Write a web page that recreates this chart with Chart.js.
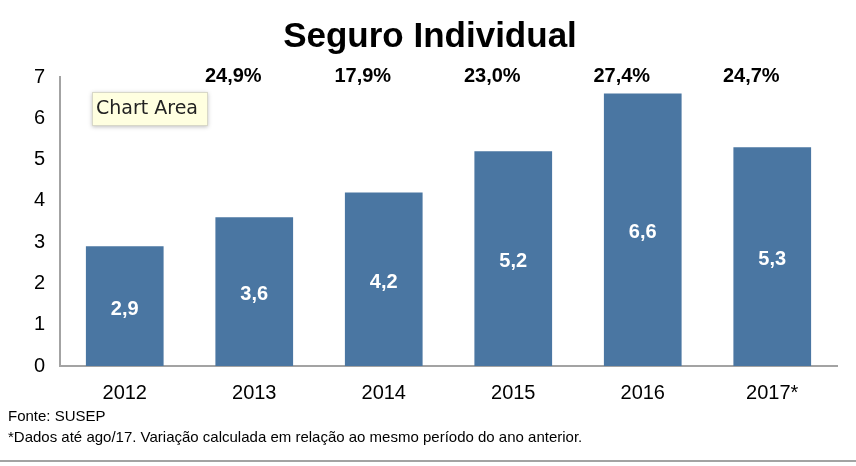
<!DOCTYPE html>
<html>
<head>
<meta charset="utf-8">
<script src="https://cdn.jsdelivr.net/npm/chart.js@4"></script>
<style>
  html, body { margin: 0; padding: 0; background: #fff; }
  #wrap { width: 856px; height: 466px; }
</style>
</head>
<body>
<div id="wrap"><canvas id="seguroChart" width="856" height="466"></canvas></div>
<script>
// dados do gráfico
const anos = ['2012', '2013', '2014', '2015', '2016', '2017*'];
const valores = [2.9, 3.6, 4.2, 5.2, 6.6, 5.3];
const variacao = ['', '24,9%', '17,9%', '23,0%', '27,4%', '24,7%'];
const tituloTexto = 'Seguro Individual';
const notas = ['Fonte: SUSEP', '*Dados até ago/17. Variação calculada em relação ao mesmo período do ano anterior.'];

const FONTE = '"Liberation Sans", Arial, sans-serif';
const AZUL = '#4A76A2';
const CINZA = '#A3A3A3';

// escreve textos extras (título, rótulos, notas)
const textosPlugin = {
    id: 'textos',
    afterDatasetsDraw(chart) {
        const { ctx, scales } = chart;
        const meta = chart.getDatasetMeta(0);
        ctx.save();

        // valores dentro das barras
        ctx.fillStyle = '#fff';
        ctx.font = 'bold 20px ' + FONTE;
        ctx.textAlign = 'center';
        ctx.textBaseline = 'middle';
        meta.data.forEach((bar, i) => {
            const txt = valores[i].toFixed(1).replace('.', ',');
            ctx.fillText(txt, bar.x, (bar.y + bar.base) / 2 + 3);
        });

        // variação anual no topo
        ctx.fillStyle = '#000';
        variacao.forEach((v, i) => {
            if (!v) return;
            ctx.fillText(v, scales.x.getPixelForValue(i) - 21, 76);
        });

        // título
        ctx.font = 'bold 35px ' + FONTE;
        ctx.fillText(tituloTexto, 430, 37);

        // notas de rodapé
        ctx.font = '15px ' + FONTE;
        ctx.textAlign = 'left';
        ctx.fillText(notas[0], 8, 417);
        ctx.fillText(notas[1], 8, 438);

        // linha inferior
        ctx.strokeStyle = CINZA;
        ctx.lineWidth = 2;
        ctx.beginPath();
        ctx.moveTo(0, 461);
        ctx.lineTo(856, 461);
        ctx.stroke();

        // caixinha "Chart Area"
        ctx.shadowColor = 'rgba(0,0,0,0.25)';
        ctx.shadowBlur = 4;
        ctx.shadowOffsetY = 1;
        ctx.fillStyle = '#FFFFE0';
        ctx.fillRect(92, 92, 116, 34);
        ctx.shadowColor = 'transparent';
        ctx.strokeStyle = '#D8D8C8';
        ctx.lineWidth = 1;
        ctx.strokeRect(92.5, 92.5, 115, 33);
        ctx.fillStyle = '#222';
        ctx.font = '19px "DejaVu Sans", sans-serif';
        ctx.textBaseline = 'middle';
        ctx.fillText('Chart Area', 96, 109);

        ctx.restore();
    }
};

new Chart(document.getElementById('seguroChart'), {
    type: 'bar',
    data: {
        labels: anos,
        datasets: [{
            data: valores,
            backgroundColor: AZUL,
            categoryPercentage: 1,
            barPercentage: 0.6
        }]
    },
    options: {
        responsive: false,
        animation: false,
        layout: { padding: { top: 77, right: 19, left: 0, bottom: 0 } },
        plugins: {
            legend: { display: false },
            tooltip: { enabled: false },
            title: { display: false }
        },
        scales: {
            x: {
                grid: { display: false, drawTicks: false },
                border: { color: CINZA, width: 2 },
                ticks: { color: '#000', font: { family: FONTE, size: 20 }, padding: 15 },
                afterFit(scale) { scale.height = 100; }
            },
            y: {
                min: 0,
                max: 7,
                grid: { display: false, drawTicks: false },
                border: { color: CINZA, width: 2 },
                ticks: { stepSize: 1, color: '#000', font: { family: FONTE, size: 20 }, padding: 15 },
                afterFit(scale) { scale.width = 60; }
            }
        }
    },
    plugins: [textosPlugin]
});
</script>
</body>
</html>
